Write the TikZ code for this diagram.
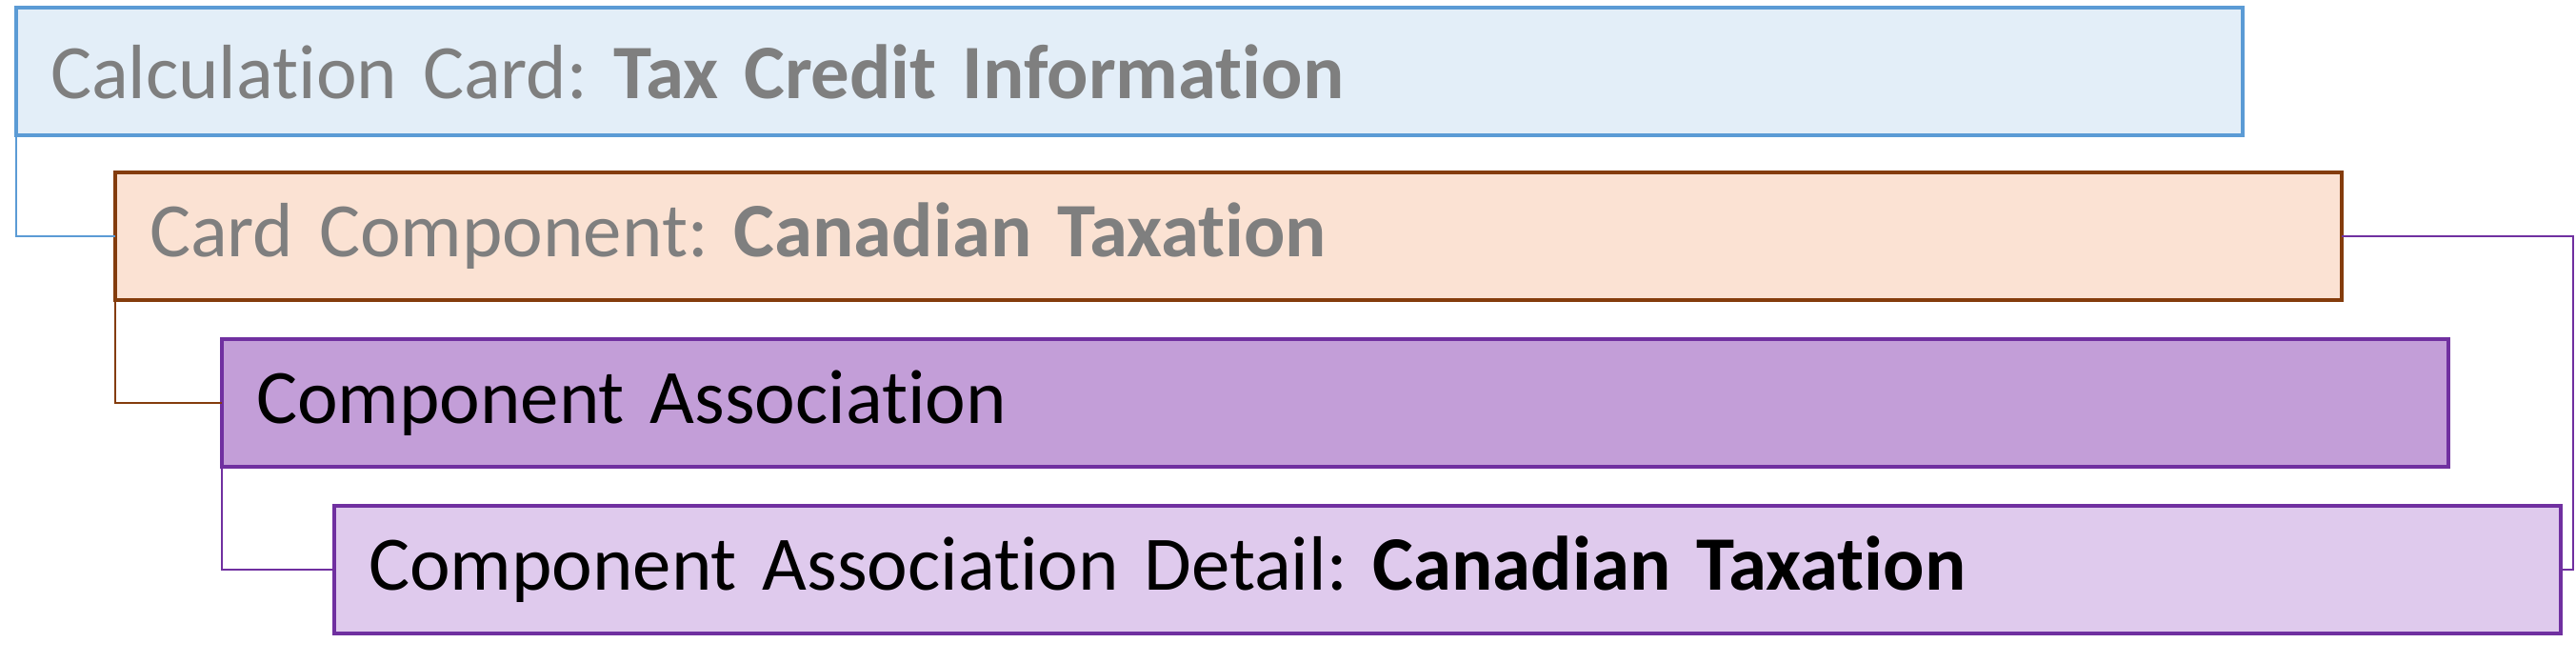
\documentclass[tikz,border=0pt]{standalone}
\usepackage{fontspec}
\setmainfont{Carlito}[RawFeature={-liga;-clig;-calt}]
\frenchspacing
\usetikzlibrary{positioning}
\definecolor{cardblue}{HTML}{5B9BD5}
\definecolor{cardfill}{HTML}{E3EEF8}
\definecolor{compbrown}{HTML}{843C0C}
\definecolor{compfill}{HTML}{FBE2D3}
\definecolor{assocpurple}{HTML}{7030A0}
\definecolor{assocfill}{HTML}{C39ED8}
\definecolor{detailfill}{HTML}{DFCAED}
\definecolor{labelgray}{HTML}{7F7F7F}
\tikzset{
  layer/.style={draw, line width=0.9pt, anchor=north west, outer sep=0pt,
    minimum height=1.34cm, text width=22.66cm, inner xsep=0.36cm, inner ysep=0pt,
    align=left, font=\fontsize{23}{27}\selectfont},
  link/.style={line width=0.6pt}
}
\begin{document}
\begin{tikzpicture}
  \useasboundingbox (0,0) rectangle (27.05,-6.96);
  \node[layer, fill=cardfill, draw=cardblue, text=labelgray] (Card) at (0.17,-0.08)
    {Calculation Card: \textbf{Tax Credit Information}};
  \node[layer, fill=compfill, draw=compbrown, text=labelgray,
    below right=0.39cm and 1.04cm of Card.south west] (Comp)
    {Card Component: \textbf{Canadian Taxation}};
  \node[layer, fill=assocfill, draw=assocpurple,
    below right=0.41cm and 1.12cm of Comp.south west] (Assoc)
    {Component Association};
  \node[layer, fill=detailfill, draw=assocpurple,
    below right=0.41cm and 1.18cm of Assoc.south west] (Detail)
    {Component Association Detail: \textbf{Canadian Taxation}};
  % elbow links
  \draw[link, cardblue] (Card.south west) |- (Comp.west);
  \draw[link, compbrown] (Comp.south west) |- (Assoc.west);
  \draw[link, assocpurple] (Assoc.south west) |- (Detail.west);
  \draw[link, assocpurple] (Comp.east) -- ++(2.43,0) |- (Detail.east);
\end{tikzpicture}
\end{document}
